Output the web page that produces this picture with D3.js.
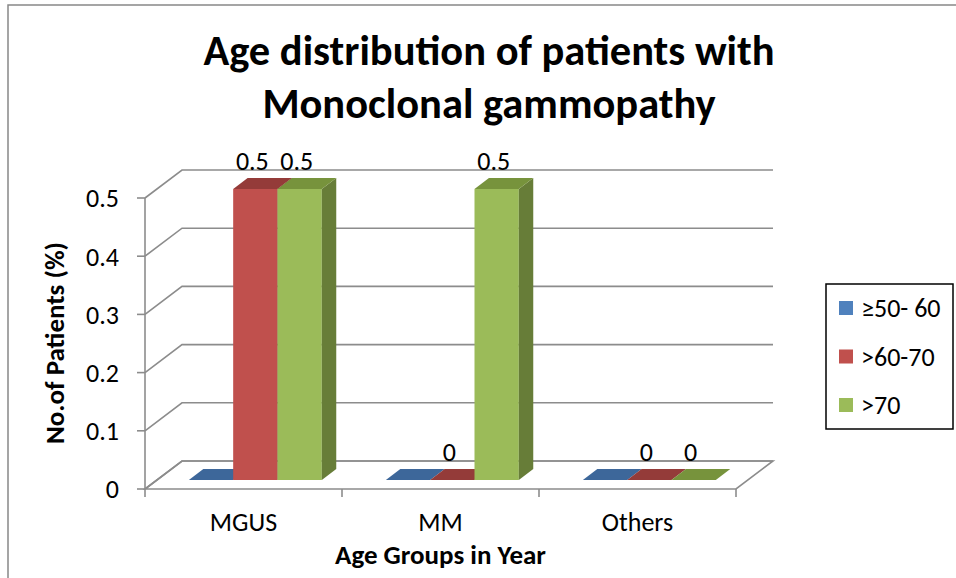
<!DOCTYPE html>
<meta charset="utf-8">
<style>
body { margin: 0; background: #fff; }
svg { display: block; font-family: Carlito, "Open Sans", sans-serif; }
.grid { fill: none; stroke: #8c8c8c; stroke-width: 1.6px; }
.lbl { font-size: 26px; fill: #000; }
.ttl { font-weight: bold; fill: #000; }
</style>
<body>
<svg width="956" height="578"></svg>
<script src="https://cdnjs.cloudflare.com/ajax/libs/d3/7.8.5/d3.min.js"></script>
<script>

var categories = ["MGUS", "MM", "Others"];
var seriesNames = ["\u226550- 60", ">60-70", ">70"];
var values = [
  [0, 0.5, 0.5],   // MGUS
  [0, 0, 0.5],     // MM
  [0, 0, 0]        // Others
];
var showLabel = [false, true, true];
var yTicks = [0, 0.1, 0.2, 0.3, 0.4, 0.5];

var front = ["#4f81bd", "#c0504d", "#9bbb59"];
var top3 = ["#3d679a", "#943b39", "#77933c"];
var side = ["#385d8a", "#8c3836", "#677d38"];

var svg = d3.select("svg");

// depth offset of the 3D box
var DX = 37, DY = -28;
var z0 = 0.32, z1 = 0.71;

var x = d3.scaleBand().domain(categories).range([145, 736])
  .paddingInner(0.325).paddingOuter(0.1625);
var xs = d3.scaleBand().domain(d3.range(seriesNames.length)).range([0, x.bandwidth()]);
var y = d3.scaleLinear().domain([0, 0.5]).range([489, 198]);

function P(px, v, z) { return [px + z * DX, y(v) + z * DY]; }
function poly(pts) { return "M" + pts.map(function(p){ return p.join(","); }).join("L") + "Z"; }

// outer frame (top + left visible)
svg.append("path").attr("d", "M8,578V5H956").attr("fill", "none")
  .attr("stroke", "#888").attr("stroke-width", 1.5);

var x0 = x.range()[0], x1 = x.range()[1];

// back wall grid + side wall diagonals
yTicks.forEach(function(t) {
  var a = P(x0, t, 0), b = P(x0, t, 1), c = P(x1, t, 1);
  svg.append("path").attr("class", "grid")
    .attr("d", "M" + a + "L" + b + "L" + c);
  svg.append("line").attr("class", "grid")
    .attr("x1", x0 - 8).attr("x2", x0).attr("y1", y(t)).attr("y2", y(t));
  svg.append("text").attr("class", "lbl")
    .attr("x", 119).attr("y", y(t)).attr("dy", "0.36em")
    .attr("text-anchor", "end").text(t === 0 ? "0" : d3.format(".1f")(t));
});

// left vertical axis
svg.append("line").attr("class", "grid")
  .attr("x1", x0).attr("x2", x0).attr("y1", y(0.5)).attr("y2", y(0));

// floor
var f = [P(x0, 0, 0), P(x1, 0, 0), P(x1, 0, 1), P(x0, 0, 1)];
svg.append("path").attr("class", "grid").attr("d", poly(f)).attr("fill", "#fff");

// category ticks
x.domain().concat([null]).forEach(function(c, i) {
  var px = x0 + i * x.step();
  svg.append("line").attr("class", "grid")
    .attr("x1", px).attr("x2", px).attr("y1", y(0)).attr("y2", y(0) + 8);
});

// bars
categories.forEach(function(cat, ci) {
  values[ci].forEach(function(v, si) {
    var bx = x(cat) + xs(si), w = xs.bandwidth();
    var g = svg.append("g");
    if (v > 0) {
      g.append("path").attr("fill", front[si])
        .attr("d", poly([P(bx, 0, z0), P(bx + w, 0, z0), P(bx + w, v, z0), P(bx, v, z0)]));
      g.append("path").attr("fill", side[si])
        .attr("d", poly([P(bx + w, 0, z0), P(bx + w, 0, z1), P(bx + w, v, z1), P(bx + w, v, z0)]));
    }
    g.append("path").attr("fill", top3[si])
      .attr("d", poly([P(bx, v, z0), P(bx + w, v, z0), P(bx + w, v, z1), P(bx, v, z1)]));
  });
});

// value labels
categories.forEach(function(cat, ci) {
  values[ci].forEach(function(v, si) {
    if (!showLabel[si]) return;
    var cx = x(cat) + xs(si) + xs.bandwidth() / 2;
    svg.append("text").attr("class", "lbl")
      .attr("x", P(cx, v, z0)[0] - 3).attr("y", P(cx, v, z1)[1] - 8)
      .attr("text-anchor", "middle").text(v === 0 ? "0" : d3.format(".1f")(v));
  });
});

// category labels
categories.forEach(function(cat) {
  svg.append("text").attr("class", "lbl")
    .attr("x", x(cat) + x.bandwidth() / 2).attr("y", 531)
    .attr("text-anchor", "middle").text(cat);
});

// axis titles
svg.append("text").attr("class", "ttl").style("font-size", "27px")
  .attr("x", (x0 + x1) / 2).attr("y", 564).attr("text-anchor", "middle")
  .text("Age Groups in Year");
svg.append("text").attr("class", "ttl").style("font-size", "27px")
  .attr("transform", "translate(64,343) rotate(-90)").attr("text-anchor", "middle")
  .text("No.of Patients (%)");

// chart title
svg.append("text").attr("class", "ttl").style("font-size", "42.5px")
  .attr("x", 489).attr("y", 65).attr("text-anchor", "middle")
  .text("Age distribution of patients with");
svg.append("text").attr("class", "ttl").style("font-size", "42.5px")
  .attr("x", 489).attr("y", 118).attr("text-anchor", "middle")
  .text("Monoclonal gammopathy");

// legend
var lg = svg.append("g");
lg.append("rect").attr("x", 826).attr("y", 284).attr("width", 127).attr("height", 145)
  .attr("fill", "#fff").attr("stroke", "#000").attr("stroke-width", 1.5);
seriesNames.forEach(function(n, i) {
  var ly = 301 + i * 48.5;
  lg.append("rect").attr("x", 839).attr("y", ly).attr("width", 14).attr("height", 14)
    .attr("fill", front[i]);
  lg.append("text").attr("class", "lbl").attr("x", 861).attr("y", ly + 7)
    .attr("dy", "0.36em").text(n);
});
</script>
</body>
